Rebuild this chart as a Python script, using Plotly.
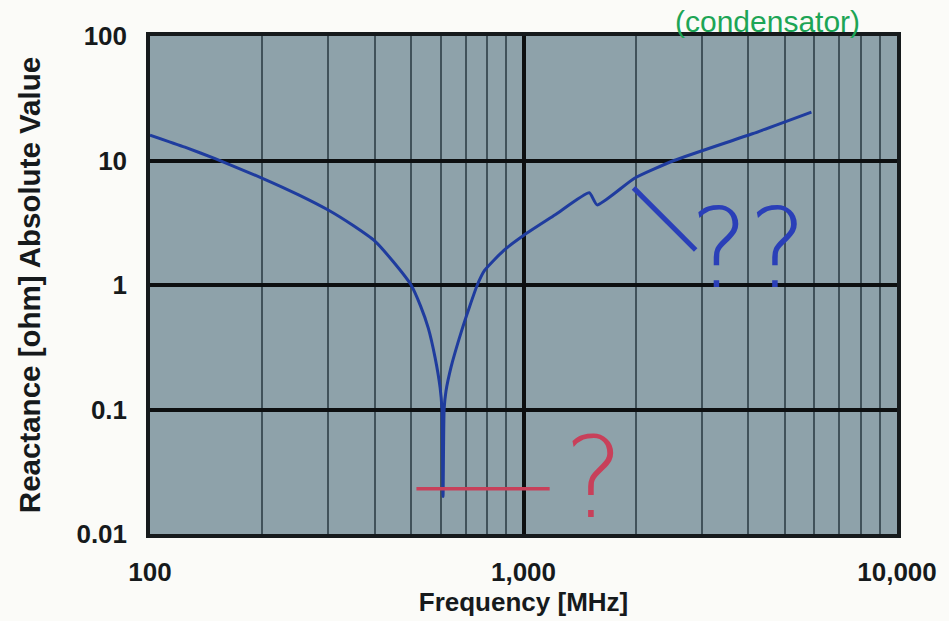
import plotly.graph_objects as go

# |X| of the part vs. frequency
freq_mhz = [100, 124, 150, 200, 250, 300, 350, 400, 447, 500, 530, 556, 580,
            598, 605, 609, 613, 620, 640, 683, 716, 752, 785, 886, 1000, 1222,
            1500, 1575, 1982, 2530, 4100, 5900]
reactance_ohm = [16, 12.8, 10.3, 7.2, 5.3, 4.0, 3.0, 2.25, 1.55, 1.0, 0.68,
                 0.45, 0.26, 0.15, 0.1, 0.02, 0.1, 0.14, 0.22, 0.43, 0.66, 1.0,
                 1.3, 1.9, 2.5, 3.7, 5.5, 4.4, 7.2, 10, 16.4, 24.5]

x_tick_vals = [100, 1000, 10000]
x_tick_text = ["100", "1,000", "10,000"]
x_minor_vals = [200, 300, 400, 500, 600, 700, 800, 900,
                2000, 3000, 4000, 5000, 6000, 7000, 8000, 9000]
y_tick_vals = [0.01, 0.1, 1, 10, 100]
y_tick_text = ["0.01", "0.1", "1", "10", "100"]

W, H = 949, 621
L, R, T, B = 150, 42, 36, 80
plot_w = W - L - R
plot_h = H - T - B


def px(xp, yp):
    """Pixel position on the page -> paper coordinates."""
    return (xp - L) / plot_w, (H - B - yp) / plot_h


ink = "#161a1c"
label_font = dict(family="Liberation Sans, Arial, sans-serif", size=26,
                  color=ink, weight="bold")

fig = go.Figure()
fig.add_trace(go.Scatter(
    x=freq_mhz, y=reactance_ohm, mode="lines",
    line=dict(color="#1f3c9e", width=3, shape="spline", smoothing=0.5),
    hoverinfo="skip", showlegend=False,
))

fig.update_xaxes(
    type="log", range=[2, 4],
    tickmode="array", tickvals=x_tick_vals, ticktext=x_tick_text,
    tickfont=label_font, ticks="", ticklabelstandoff=12,
    showgrid=True, gridcolor="#0d0f10", gridwidth=3.5,
    minor=dict(tickmode="array", tickvals=x_minor_vals, showgrid=True,
               gridcolor="#41525a", gridwidth=2, ticks=""),
    showline=True, linecolor=ink, linewidth=3.5, mirror=True,
    zeroline=False,
    title=dict(text="Frequency [MHz]", font=label_font, standoff=4),
)
fig.update_yaxes(
    type="log", range=[-2, 2],
    tickmode="array", tickvals=y_tick_vals, ticktext=y_tick_text,
    tickfont=label_font, ticks="", ticklabelstandoff=14,
    showgrid=True, gridcolor="#0d0f10", gridwidth=3.5,
    showline=True, linecolor=ink, linewidth=3.5, mirror=True,
    zeroline=False,
    title=dict(text="Reactance [ohm] Absolute Value",
               font=dict(family="Liberation Sans, Arial, sans-serif", size=29.5,
                         color=ink, weight="bold"),
               standoff=28),
)

# pen notes written over the printed chart
hand = "DejaVu Sans ExtraLight, DejaVu Sans Light, Inter, sans-serif"
notes = []
qx, qy = px(599, 484)
notes.append(dict(text="?", x=qx, y=qy, xref="paper", yref="paper",
                  showarrow=False, xanchor="center", yanchor="middle",
                  font=dict(family=hand, size=112, color="#c8405a", weight=200)))
bx, by = px(757, 252)
notes.append(dict(text="??", x=bx, y=by, xref="paper", yref="paper",
                  showarrow=False, xanchor="center", yanchor="middle",
                  font=dict(family=hand, size=110, color="#2a3fb8", weight=300)))
gx, gy = px(776, 3)
notes.append(dict(text="(condensator)", x=gx, y=gy, xref="paper", yref="paper",
                  showarrow=False, xanchor="center", yanchor="top",
                  font=dict(family="Liberation Sans, sans-serif", size=30,
                            color="#1da556")))

shapes = []
rx0, ry = px(420, 495)
rx1, _ = px(555, 495)
shapes.append(dict(type="line", xref="paper", yref="paper",
                   x0=rx0, x1=rx1, y0=ry, y1=ry,
                   line=dict(color="#c8405a", width=3.5)))
sx0, sy0 = px(640, 190)
sx1, sy1 = px(703, 253)
shapes.append(dict(type="line", xref="paper", yref="paper",
                   x0=sx0, y0=sy0, x1=sx1, y1=sy1,
                   line=dict(color="#2a3fb8", width=5)))

fig.update_layout(
    width=W, height=H,
    margin=dict(l=L, r=R, t=T, b=B),
    paper_bgcolor="#fbfbf8",
    plot_bgcolor="#8ea2aa",
    annotations=notes,
    shapes=shapes,
)

fig.write_html("out.html")
